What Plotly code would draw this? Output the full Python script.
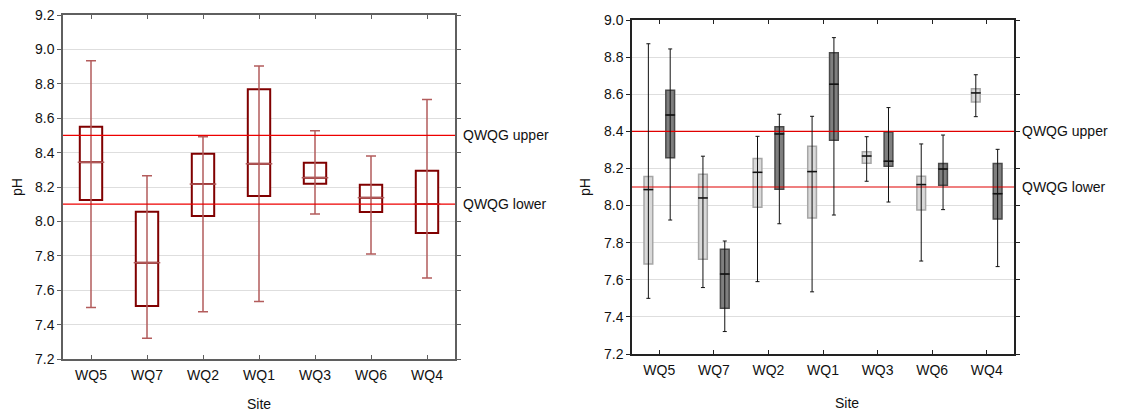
import plotly.graph_objects as go

sites = ["WQ5", "WQ7", "WQ2", "WQ1", "WQ3", "WQ6", "WQ4"]

# Left panel (single series)
L_low = [7.50, 7.32, 7.475, 7.535, 8.043, 7.81, 7.671]
L_q1 = [8.124, 7.508, 8.031, 8.148, 8.219, 8.055, 7.933]
L_med = [8.344, 7.76, 8.217, 8.335, 8.254, 8.138, 8.101]
L_q3 = [8.55, 8.056, 8.394, 8.768, 8.341, 8.213, 8.295]
L_high = [8.934, 8.266, 8.492, 8.903, 8.527, 8.380, 8.708]

# Right panel, light series
A_low = [7.50, 7.558, 7.59, 7.535, 8.131, 7.701, 8.479]
A_q1 = [7.685, 7.711, 7.991, 7.933, 8.228, 7.976, 8.558]
A_med = [8.086, 8.041, 8.179, 8.183, 8.267, 8.113, 8.607]
A_q3 = [8.156, 8.169, 8.253, 8.320, 8.29, 8.158, 8.630]
A_high = [8.872, 8.266, 8.373, 8.481, 8.371, 8.332, 8.705]

# Right panel, dark series
B_low = [7.922, 7.321, 7.902, 7.949, 8.019, 7.978, 7.671]
B_q1 = [8.258, 7.447, 8.088, 8.352, 8.212, 8.109, 7.928]
B_med = [8.488, 7.631, 8.386, 8.654, 8.239, 8.197, 8.064]
B_q3 = [8.621, 7.764, 8.425, 8.824, 8.397, 8.226, 8.226]
B_high = [8.844, 7.809, 8.492, 8.905, 8.528, 8.380, 8.303]

L_limits = [8.5, 8.1]
R_limits = [8.4, 8.1]
limit_names = ["QWQG upper", "QWQG lower"]

L_yticks = [7.2, 7.4, 7.6, 7.8, 8.0, 8.2, 8.4, 8.6, 8.8, 9.0, 9.2]
R_yticks = [7.2, 7.4, 7.6, 7.8, 8.0, 8.2, 8.4, 8.6, 8.8, 9.0]

FONT = "Liberation Sans, Arial, sans-serif"
idx = list(range(len(sites)))
xr = [-0.5, len(sites) - 0.5]

# page has an 8px body margin: figure pixels = screen pixels - 8
W, H, M = 1115, 404, 8


def px(xs):
    return (xs - M) / W


def py(ys):
    return 1 - (ys - M) / H


fig = go.Figure()

# right-panel guideline lines (drawn above the grid, below the boxes)
for v in R_limits:
    fig.add_trace(go.Scatter(x=xr, y=[v, v], mode="lines", line=dict(color="#e00000", width=1.2),
                             xaxis="x2", yaxis="y2", showlegend=False, hoverinfo="skip"))


def add_series(xpos, low, q1, med, q3, high, xa, ya, line_c, fill_c, lw, wh_c, wh_w, cap, bw, med_c, med_w, med_size):
    fig.add_trace(go.Scatter(
        x=xpos, y=med, mode="markers", marker=dict(size=1, opacity=0),
        error_y=dict(type="data", symmetric=False,
                     array=[h - m for h, m in zip(high, med)],
                     arrayminus=[m - l for m, l in zip(med, low)],
                     color=wh_c, thickness=wh_w, width=cap),
        xaxis=xa, yaxis=ya, showlegend=False, hoverinfo="skip"))
    fig.add_trace(go.Box(
        x=xpos, q1=q1, median=med, q3=q3, lowerfence=q1, upperfence=q3,
        width=bw, fillcolor=fill_c, line=dict(color=line_c, width=lw),
        xaxis=xa, yaxis=ya, showlegend=False, hoverinfo="skip"))
    fig.add_trace(go.Scatter(
        x=xpos, y=med, mode="markers",
        marker=dict(symbol="line-ew", size=med_size, line=dict(color=med_c, width=med_w)),
        xaxis=xa, yaxis=ya, showlegend=False, hoverinfo="skip"))


add_series(idx, L_low, L_q1, L_med, L_q3, L_high, "x", "y",
           "#800000", "white", 2, "#b35c5c", 1.5, 5, 0.4, "#b05a5a", 1.5, 19)

off = 0.2
add_series([i - off for i in idx], A_low, A_q1, A_med, A_q3, A_high, "x2", "y2",
           "#a6a6a6", "#d9d9d9", 1.5, "#111111", 1, 2, 0.16, "#111111", 1.5, 7)
add_series([i + off for i in idx], B_low, B_q1, B_med, B_q3, B_high, "x2", "y2",
           "#4a4a4a", "#7f7f7f", 1.5, "#111111", 1, 2, 0.16, "#111111", 1.5, 7)

shapes = []
annots = []
for v, name in zip(L_limits, limit_names):
    shapes.append(dict(type="line", xref="x domain", x0=0, x1=1, yref="y", y0=v, y1=v,
                       line=dict(color="#ee0000", width=1.3), layer="above"))
    annots.append(dict(x=px(461), xref="paper", xanchor="left", y=v, yref="y", yanchor="middle",
                       text=name, showarrow=False, font=dict(size=14, color="#111")))
for v, name in zip(R_limits, limit_names):
    annots.append(dict(x=px(1020), xref="paper", xanchor="left", y=v, yref="y2", yanchor="middle",
                       text=name, showarrow=False, font=dict(size=14, color="#111")))

for xs, ys, txt, ang in [(17, 187, "pH", -90), (259, 404, "Site", 0),
                         (585, 187, "pH", -90), (847, 403, "Site", 0)]:
    annots.append(dict(x=px(xs), y=py(ys), xref="paper", yref="paper", text=txt, textangle=ang,
                       xanchor="center", yanchor="middle",
                       showarrow=False, font=dict(size=14, color="#111")))

xcommon = dict(range=xr, tickvals=idx, ticktext=sites, ticks="inside", ticklen=4,
               mirror="ticks", showline=True, showgrid=False, zeroline=False, automargin=False,
               tickfont=dict(size=14, color="#111"), ticklabelstandoff=2, ticklabeloverflow="allow")
ycommon = dict(tickformat=".1f", ticks="outside", ticklen=4, mirror="ticks",
               showline=True, showgrid=True, gridcolor="#dedede", gridwidth=1, zeroline=False,
               automargin=False, tickfont=dict(size=14, color="#111"), ticklabeloverflow="allow")

fig.update_layout(
    template="none",
    width=W, height=H, autosize=False,
    margin=dict(l=0, r=0, t=0, b=0, pad=0),
    paper_bgcolor="white", plot_bgcolor="white",
    font=dict(family=FONT, size=14, color="#111"),
    boxmode="overlay",
    xaxis=dict(domain=[px(63), px(455)], anchor="y", linecolor="#5f5f5f", linewidth=1.5,
               tickcolor="#5f5f5f", **xcommon),
    yaxis=dict(domain=[py(359), py(15)], anchor="x", range=[L_yticks[0], L_yticks[-1]],
               tickvals=L_yticks, linecolor="#5f5f5f", linewidth=1.5, tickcolor="#5f5f5f", **ycommon),
    xaxis2=dict(domain=[px(632), px(1014)], anchor="y2", linecolor="#222", linewidth=1.5,
                tickcolor="#222", **xcommon),
    yaxis2=dict(domain=[py(354), py(20)], anchor="x2", range=[R_yticks[0], R_yticks[-1]],
                tickvals=R_yticks, linecolor="#222", linewidth=1.5, tickcolor="#222", **ycommon),
    shapes=shapes, annotations=annots,
)

fig.write_html("out.html")
